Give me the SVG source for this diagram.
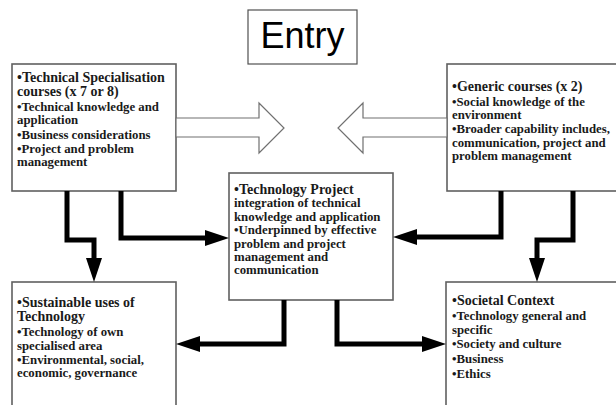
<svg xmlns="http://www.w3.org/2000/svg" width="616" height="405" viewBox="0 0 616 405">
<style>
.box{fill:#fff;stroke:#606060;stroke-width:1.6}
.entry{fill:#fff;stroke:#505050;stroke-width:1.2}
.open{fill:#fff;stroke:#707070;stroke-width:1.2}
.conn{fill:none;stroke:#000;stroke-width:5;stroke-linejoin:miter}
text{font-family:"Liberation Serif","Times New Roman",serif;font-weight:bold;fill:#1a1a1a}
.h{font-size:14px}
.t{font-size:12.8px}
.e{font-family:"Liberation Sans",Arial,sans-serif;font-weight:normal;font-size:36px;fill:#000}
</style>
<defs>
<marker id="ah" markerUnits="userSpaceOnUse" markerWidth="24" markerHeight="16" refX="0" refY="8" orient="auto">
<path d="M0,0 L24,8 L0,16 Z" fill="#000"/>
</marker>
</defs>
<rect width="616" height="405" fill="#fff"/>
<g id="entry">
<rect class="entry" x="248" y="10" width="109" height="54"/>
<text class="e" x="302.5" y="48" text-anchor="middle">Entry</text>
</g>
<g id="technical-specialisation">
<rect class="box" x="12" y="64" width="164" height="127"/>
<text class="h" x="17" y="82">•Technical Specialisation</text>
<text class="h" x="17" y="96">courses (x 7 or 8)</text>
<text class="t" x="17" y="111">•Technical knowledge and</text>
<text class="t" x="17" y="124">application</text>
<text class="t" x="17" y="139">•Business considerations</text>
<text class="t" x="17" y="153">•Project and problem</text>
<text class="t" x="17" y="166">management</text>
</g>
<g id="generic-courses">
<rect class="box" x="447" y="64" width="200" height="127"/>
<text class="h" x="452" y="91">•Generic courses (x 2)</text>
<text class="t" x="452" y="106">•Social knowledge of the</text>
<text class="t" x="452" y="119">environment</text>
<text class="t" x="452" y="133">•Broader capability includes,</text>
<text class="t" x="452" y="147">communication, project and</text>
<text class="t" x="452" y="160">problem management</text>
</g>
<g id="technology-project">
<rect class="box" x="229" y="173" width="164" height="127"/>
<text class="h" x="234" y="194">•Technology Project</text>
<text class="t" x="234" y="207">integration of technical</text>
<text class="t" x="234" y="221">knowledge and application</text>
<text class="t" x="234" y="234">•Underpinned by effective</text>
<text class="t" x="234" y="248">problem and project</text>
<text class="t" x="234" y="261">management and</text>
<text class="t" x="234" y="274">communication</text>
</g>
<g id="sustainable-uses">
<rect class="box" x="12" y="282" width="164" height="150"/>
<text class="h" x="17" y="307">•Sustainable uses of</text>
<text class="h" x="17" y="321">Technology</text>
<text class="t" x="17" y="336">•Technology of own</text>
<text class="t" x="17" y="350">specialised area</text>
<text class="t" x="17" y="364">•Environmental, social,</text>
<text class="t" x="17" y="377">economic, governance</text>
</g>
<g id="societal-context">
<rect class="box" x="446" y="282" width="200" height="150"/>
<text class="h" x="452" y="305">•Societal Context</text>
<text class="t" x="452" y="320">•Technology general and</text>
<text class="t" x="452" y="334">specific</text>
<text class="t" x="452" y="348">•Society and culture</text>
<text class="t" x="452" y="363">•Business</text>
<text class="t" x="452" y="378">•Ethics</text>
</g>
<g id="connectors">
<polygon class="open" points="176,118 259,118 259,103 284,128 259,153 259,137 176,137"/>
<polygon class="open" points="447,118 363,118 363,103 338,128 363,153 363,137 447,137"/>
<path class="conn" d="M67,191 V240 H94 V258" marker-end="url(#ah)"/>
<path class="conn" d="M121,191 V238 H205" marker-end="url(#ah)"/>
<path class="conn" d="M501,191 V237 H417" marker-end="url(#ah)"/>
<path class="conn" d="M573,191 V240 H537 V258" marker-end="url(#ah)"/>
<path class="conn" d="M284,300 V344 H200" marker-end="url(#ah)"/>
<path class="conn" d="M337,300 V344 H422" marker-end="url(#ah)"/>
</g>
</svg>
